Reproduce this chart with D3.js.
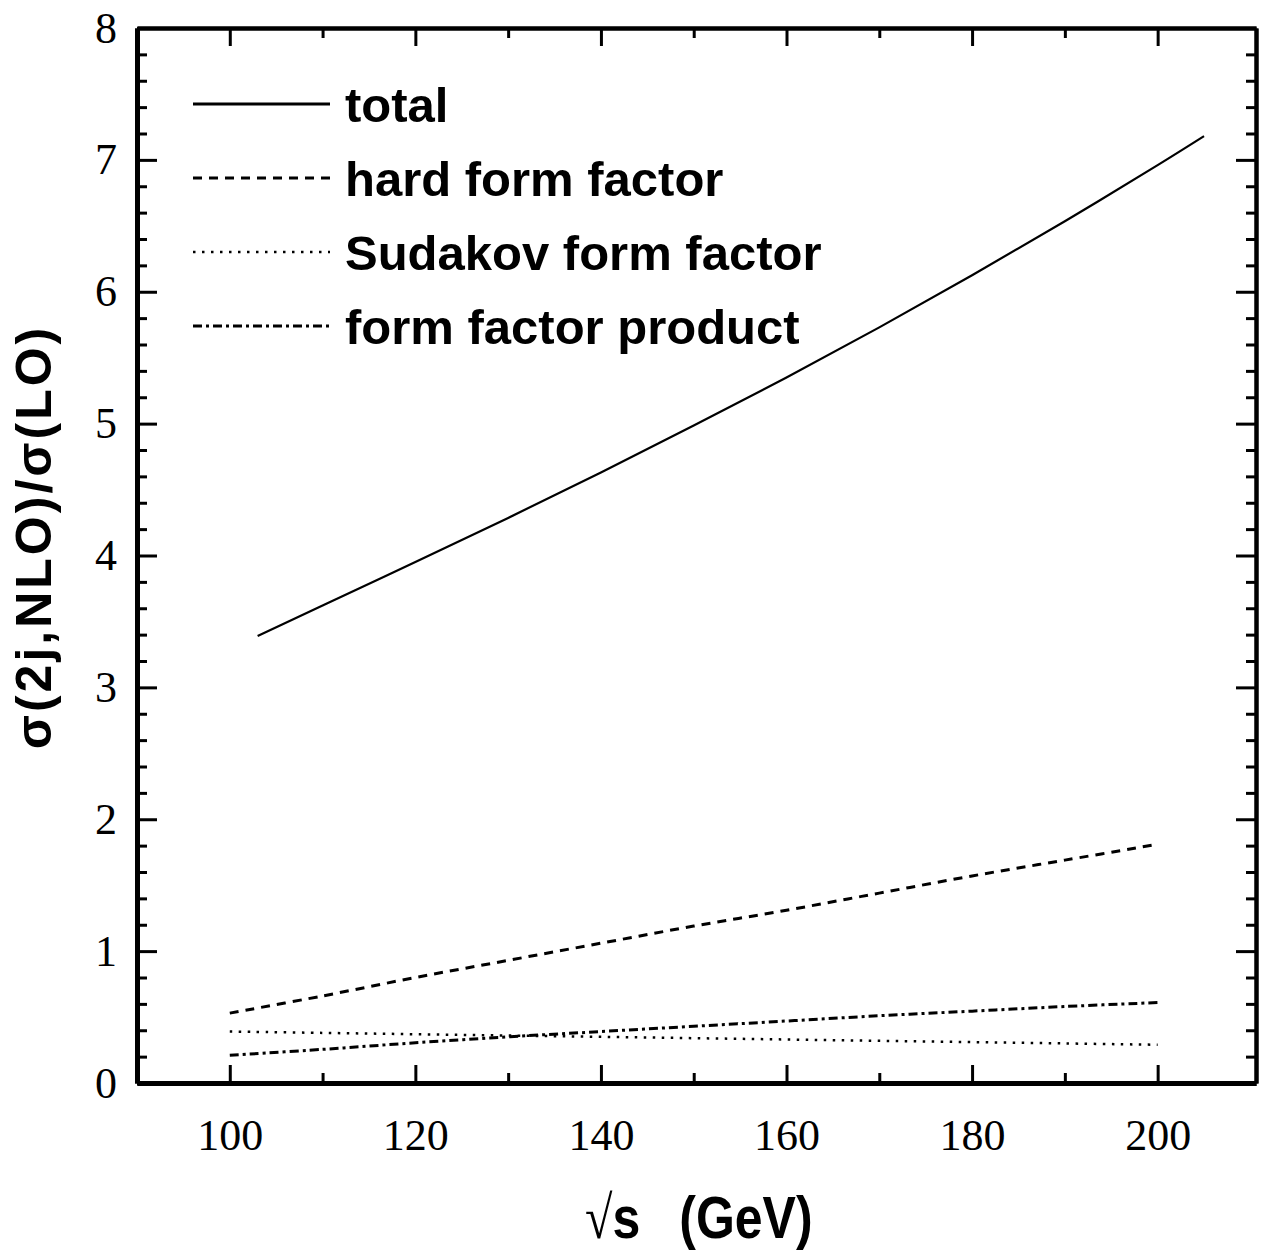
<!DOCTYPE html>
<html>
<head>
<meta charset="utf-8">
<script src="https://cdn.jsdelivr.net/npm/d3@7"></script>
<style>
  body { margin: 0; background: #fff; }
  svg { display: block; }
</style>
</head>
<body>
<div id="chart"></div>
<script>
// values
var xTotal = [103, 110, 120, 130, 140, 150, 160, 170, 180, 190, 200, 205];
var yTotal = [3.39, 3.62, 3.95, 4.285, 4.63, 4.985, 5.35, 5.73, 6.125, 6.535, 6.96, 7.18];

var xForm = [100, 110, 120, 130, 140, 150, 160, 170, 180, 190, 200];
var yHard = [0.53, 0.66, 0.80, 0.93, 1.06, 1.19, 1.31, 1.44, 1.57, 1.69, 1.81];
var ySudakov = [0.39, 0.38, 0.37, 0.36, 0.35, 0.34, 0.33, 0.32, 0.31, 0.30, 0.29];
var yProduct = [0.21, 0.255, 0.305, 0.35, 0.39, 0.43, 0.47, 0.51, 0.545, 0.58, 0.61];

var legendLabels = ["total", "hard form factor", "Sudakov form factor", "form factor product"];
var xMajor = [100, 120, 140, 160, 180, 200];
var xMinor = [110, 130, 150, 170, 190];
var yMajor = [0, 1, 2, 3, 4, 5, 6, 7, 8];

var W = 1263, H = 1250;
var pL = 137, pR = 1256, pT = 28, pB = 1083;

var svg = d3.select("#chart")
	.append("svg")
	.attr("width", W)
	.attr("height", H);

var x = d3.scaleLinear().domain([90, 210.6]).range([pL, pR]);
var y = d3.scaleLinear().domain([0, 8]).range([pB, pT]);

var yMinor = d3.range(0, 8.001, 0.2).filter(v => Math.abs(v - Math.round(v)) > 0.01);

var tickFont = "'Liberation Serif', 'Times New Roman', serif";
var sansFont = "'Liberation Sans', Arial, Helvetica, sans-serif";

function styleAxis(g, w) {
	g.select(".domain").attr("stroke", "#000").attr("stroke-width", w);
	g.selectAll(".tick line").attr("stroke", "#000").attr("stroke-width", 3);
	g.selectAll("text").attr("fill", "#000").style("font-family", tickFont).style("font-size", "44px");
}

// bottom
svg.append("g")
	.attr("transform", `translate(0,${pB})`)
	.call(d3.axisBottom(x).tickValues(xMajor).tickSize(-18).tickPadding(67).tickSizeOuter(0))
	.call(g => styleAxis(g, 5))
	.call(g => g.selectAll("text").attr("dy", "0"));
svg.append("g")
	.attr("transform", `translate(0,${pB})`)
	.call(d3.axisBottom(x).tickValues(xMinor).tickSize(-10).tickFormat("").tickSizeOuter(0))
	.call(g => styleAxis(g, 5));

// top
svg.append("g")
	.attr("transform", `translate(0,${pT})`)
	.call(d3.axisTop(x).tickValues(xMajor).tickSize(-18).tickFormat("").tickSizeOuter(0))
	.call(g => styleAxis(g, 4));
svg.append("g")
	.attr("transform", `translate(0,${pT})`)
	.call(d3.axisTop(x).tickValues(xMinor).tickSize(-10).tickFormat("").tickSizeOuter(0))
	.call(g => styleAxis(g, 4));

// left
svg.append("g")
	.attr("transform", `translate(${pL},0)`)
	.call(d3.axisLeft(y).tickValues(yMajor).tickSize(-20).tickPadding(20).tickSizeOuter(0))
	.call(g => styleAxis(g, 5))
	.call(g => g.selectAll("text").attr("dy", "0.32em"));
svg.append("g")
	.attr("transform", `translate(${pL},0)`)
	.call(d3.axisLeft(y).tickValues(yMinor).tickSize(-10).tickFormat("").tickSizeOuter(0))
	.call(g => styleAxis(g, 5));

// right
svg.append("g")
	.attr("transform", `translate(${pR},0)`)
	.call(d3.axisRight(y).tickValues(yMajor).tickSize(-20).tickFormat("").tickSizeOuter(0))
	.call(g => styleAxis(g, 4));
svg.append("g")
	.attr("transform", `translate(${pR},0)`)
	.call(d3.axisRight(y).tickValues(yMinor).tickSize(-10).tickFormat("").tickSizeOuter(0))
	.call(g => styleAxis(g, 4));

// curves
var styles = [
	{ dash: null, width: 2.2 },
	{ dash: "9,7", width: 3 },
	{ dash: "2.5,6.5", width: 2.5 },
	{ dash: "9,4,3,4", width: 3 }
];

var series = [
	d3.zip(xTotal, yTotal),
	d3.zip(xForm, yHard),
	d3.zip(xForm, ySudakov),
	d3.zip(xForm, yProduct)
];

var line = d3.line()
	.x(d => x(d[0]))
	.y(d => y(d[1]))
	.curve(d3.curveCatmullRom.alpha(0.5));

svg.selectAll(".curve")
	.data(series)
	.enter()
	.append("path")
	.attr("class", "curve")
	.attr("d", line)
	.attr("fill", "none")
	.attr("stroke", "#000")
	.attr("stroke-width", (d, i) => styles[i].width)
	.attr("stroke-dasharray", (d, i) => styles[i].dash);

// legend
var legend = svg.selectAll(".legend")
	.data(legendLabels)
	.enter()
	.append("g")
	.attr("class", "legend")
	.attr("transform", (d, i) => `translate(0,${104 + 74 * i})`);

legend.append("line")
	.attr("x1", 193)
	.attr("x2", 330)
	.attr("y1", 0)
	.attr("y2", 0)
	.attr("stroke", "#000")
	.attr("stroke-width", (d, i) => i === 0 ? 3 : styles[i].width)
	.attr("stroke-dasharray", (d, i) => styles[i].dash);

legend.append("text")
	.attr("x", 345)
	.attr("y", 18)
	.text(d => d)
	.style("font-family", sansFont)
	.style("font-weight", "bold")
	.style("font-size", "49px");

// axis titles
svg.append("text")
	.attr("transform", "translate(51,537) rotate(-90)")
	.style("text-anchor", "middle")
	.style("font-family", sansFont)
	.style("font-weight", "bold")
	.style("font-size", "50px")
	.style("letter-spacing", "3px")
	.text("σ(2j,NLO)/σ(LO)");

var xt = svg.append("text")
	.attr("transform", "translate(585,1238) scale(1,1.2)")
	.style("font-family", sansFont)
	.style("font-weight", "bold")
	.style("font-size", "50px");
xt.append("tspan")
	.style("font-family", tickFont)
	.style("font-weight", "normal")
	.text("√");
xt.append("tspan").text("s");
xt.append("tspan").attr("dx", 39).text("(GeV)");
</script>
</body>
</html>
